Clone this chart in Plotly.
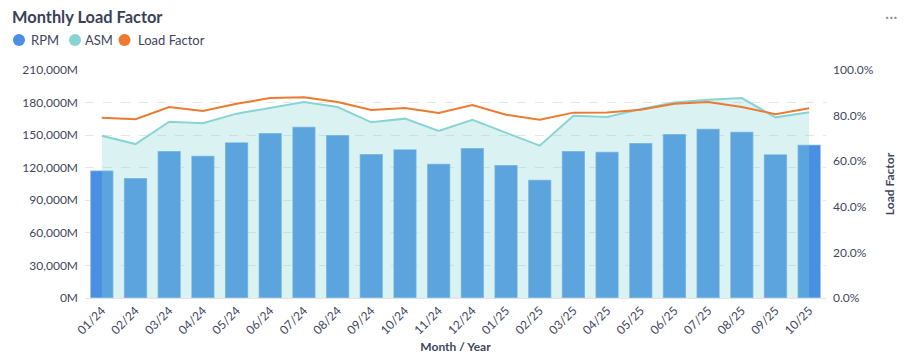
import plotly.graph_objects as go
from plotly.subplots import make_subplots

months = ["01/24", "02/24", "03/24", "04/24", "05/24", "06/24", "07/24", "08/24",
          "09/24", "10/24", "11/24", "12/24", "01/25", "02/25", "03/25", "04/25",
          "05/25", "06/25", "07/25", "08/25", "09/25", "10/25"]

# values in millions
rpm = [117500, 110500, 135400, 131100, 143400, 152000, 157800, 150100,
       132600, 137000, 123700, 138200, 122500, 109000, 135400, 134800,
       142800, 151100, 155900, 153200, 132300, 141200]

asm = [149500, 141800, 162400, 160900, 169800, 175000, 180500, 175900,
       161800, 165200, 153800, 164200, 152300, 140300, 167900, 166700,
       174100, 180000, 182700, 184200, 166400, 171000]

load_factor = [79.1, 78.4, 83.8, 82.0, 85.2, 87.7, 88.0, 86.0,
               82.5, 83.3, 81.1, 84.6, 80.4, 78.2, 81.3, 81.4,
               82.6, 85.2, 86.0, 83.8, 80.6, 83.2]

C_RPM = "#4A90E2"
C_ASM = "rgb(136,212,212)"
C_ASM_FILL = "rgba(136,212,212,0.3)"
C_LF = "#EC7A30"
TXT = "#3F4660"
FONT = "Lato"

W, H = 913, 364
ML, MR, MT, MB = 85, 87, 70, 66

fig = make_subplots(specs=[[{"secondary_y": True}]])

fig.add_trace(go.Bar(
    x=months, y=rpm, name="RPM", marker=dict(color=C_RPM,
    line=dict(color="rgba(255,255,255,0.35)", width=1.5)),
    showlegend=False), secondary_y=False)

fig.add_trace(go.Scatter(
    x=months, y=asm, name="ASM", mode="lines", line=dict(color=C_ASM, width=2),
    fill="tozeroy", fillcolor=C_ASM_FILL, showlegend=False), secondary_y=False)

fig.add_trace(go.Scatter(
    x=months, y=load_factor, name="Load Factor", mode="lines",
    line=dict(color=C_LF, width=2), showlegend=False), secondary_y=True)

fig.update_layout(
    width=W, height=H,
    margin=dict(l=ML, r=MR, t=MT, b=MB, autoexpand=False),
    paper_bgcolor="white", plot_bgcolor="white",
    font=dict(family=FONT, color=TXT, size=12),
    bargap=0.31,
    title=dict(text="<b>Monthly Load Factor</b>", x=12 / W, xref="container",
               xanchor="left", y=1 - 17 / H, yref="container", yanchor="middle",
               font=dict(family=FONT, size=16.4, color="#3A4257")),
)

fig.update_xaxes(
    type="category", range=[-0.5, 21.5], domain=[0, 1], tickangle=-45, automargin=False,
    showgrid=False, showline=True, linecolor="#E3E3E3", linewidth=1,
    ticks="", tickfont=dict(size=12, color=TXT),
    title=dict(text="<b>Month / Year</b>", font=dict(size=12, color=TXT), standoff=6),
)

fig.update_yaxes(
    range=[0, 210000], tick0=0, dtick=30000, tickformat=",d", ticksuffix="M",
    showgrid=True, gridcolor="#E6E6E6", griddash="dash", gridwidth=1,
    zeroline=False, ticks="", ticklabelstandoff=6, automargin=False,
    tickfont=dict(size=12, color=TXT), secondary_y=False,
)

fig.update_yaxes(
    range=[0, 100], tick0=0, dtick=20, tickformat=".1f", ticksuffix="%",
    showgrid=False, zeroline=False, ticks="", ticklabelstandoff=6, automargin=False,
    tickfont=dict(size=12, color=TXT),
    title=dict(text="<b>Load Factor</b>", font=dict(size=12, color=TXT), standoff=12),
    secondary_y=True,
)

# manual legend (circle markers)
pw = W - ML - MR
ph = H - MT - MB
legend_items = [("RPM", C_RPM, 19, 29), ("ASM", C_ASM, 75, 83), ("Load Factor", C_LF, 124.5, 136)]
for name, col, cx, tx in legend_items:
    fx = (cx - ML) / pw
    fy = (H - MB - 40) / ph
    fig.add_shape(type="circle", xref="paper", yref="paper",
                  xsizemode="pixel", ysizemode="pixel",
                  xanchor=fx, yanchor=fy, x0=-6, x1=6, y0=-6, y1=6,
                  fillcolor=col, line=dict(width=0))
    fig.add_annotation(text=name, xref="paper", yref="paper",
                       x=(tx - ML) / pw, y=fy, xanchor="left", yanchor="middle",
                       showarrow=False, font=dict(size=13, color=TXT, family=FONT))

fig.add_annotation(text="···", xref="paper", yref="paper",
                   x=(891 - ML) / pw, y=(H - MB - 16) / ph,
                   xanchor="center", yanchor="middle", showarrow=False,
                   font=dict(size=16, color="#8C90A0", family=FONT))

fig.write_html("out.html", config={"displayModeBar": False},
               post_script="document.body.style.margin='0';")
